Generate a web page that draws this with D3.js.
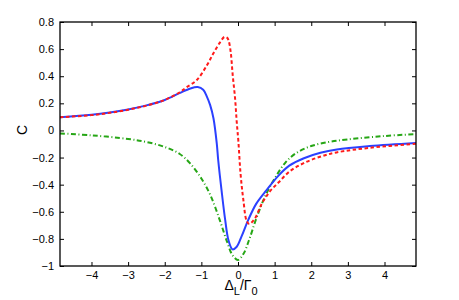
<!DOCTYPE html>
<html><head><meta charset="utf-8">
<script src="https://cdn.jsdelivr.net/npm/d3@7"></script>
<style>body{margin:0;background:#fff}svg{display:block}</style>
</head><body>
<svg id="c" width="459" height="300"></svg>
<script>
const xTicks = [-4,-3,-2,-1,0,1,2,3,4];
const yTicks = [-1,-0.8,-0.6,-0.4,-0.2,0,0.2,0.4,0.6,0.8];
const yTickLabels = ["−1","−0.8","−0.6","−0.4","−0.2","0","0.2","0.4","0.6","0.8"];

const blueX = [-4.86,-4.0,-3.5,-3.0,-2.5,-2.0,-1.6,-1.3,-1.1,-0.95,-0.85,-0.76,-0.67,-0.58,-0.54,-0.45,-0.35,-0.26,-0.15,-0.04,0.1,0.28,0.5,0.78,1.1,1.4,1.8,2.25,2.7,3.6,4.86];
const blueY = [0.098,0.115,0.132,0.155,0.185,0.225,0.275,0.31,0.32,0.30,0.25,0.187,0.09,-0.095,-0.22,-0.44,-0.66,-0.81,-0.877,-0.86,-0.78,-0.66,-0.54,-0.44,-0.335,-0.26,-0.205,-0.165,-0.14,-0.115,-0.092];

const redX = [-4.86,-4.0,-3.5,-3.0,-2.5,-2.0,-1.6,-1.4,-1.13,-0.85,-0.67,-0.49,-0.37,-0.3,-0.26,-0.2,-0.145,-0.08,-0.035,0.01,0.07,0.145,0.24,0.31,0.46,0.65,0.87,1.12,1.42,1.78,2.24,2.69,3.6,4.86];
const redY = [0.097,0.113,0.13,0.153,0.183,0.225,0.28,0.32,0.37,0.48,0.57,0.65,0.69,0.685,0.667,0.58,0.41,0.237,0.064,-0.08,-0.32,-0.51,-0.67,-0.69,-0.65,-0.54,-0.45,-0.38,-0.30,-0.243,-0.194,-0.162,-0.128,-0.098];

const greenX = [-4.86,-4.0,-3.0,-2.5,-2.0,-1.6,-1.3,-1.0,-0.75,-0.5,-0.3,-0.15,0.0,0.15,0.3,0.5,0.75,1.0,1.3,1.6,2.0,2.5,3.0,4.0,4.86];
const greenY = [-0.022,-0.036,-0.063,-0.085,-0.122,-0.172,-0.245,-0.355,-0.48,-0.66,-0.82,-0.92,-0.955,-0.91,-0.81,-0.65,-0.48,-0.355,-0.235,-0.165,-0.115,-0.084,-0.066,-0.041,-0.027];

const svg = d3.select("#c");
const L=60,R=416,T=22,B=266;
const x = d3.scaleLinear().domain([-4.86,4.86]).range([L,R]);
const y = d3.scaleLinear().domain([-1,0.8]).range([B,T]);
const font = "'Liberation Sans', Arial, Helvetica, sans-serif";

svg.append("clipPath").attr("id","cp").append("rect")
  .attr("x",L).attr("y",T).attr("width",R-L).attr("height",B-T);

const line = d3.line().x(d=>x(d[0])).y(d=>y(d[1])).curve(d3.curveCatmullRom.alpha(0.5));
const g = svg.append("g").attr("clip-path","url(#cp)");
g.append("path").datum(greenX.map((v,i)=>[v,greenY[i]])).attr("d",line)
  .attr("fill","none").attr("stroke","#26a615").attr("stroke-width",2)
  .attr("stroke-dasharray","5,2.5,1,2.5");
g.append("path").datum(blueX.map((v,i)=>[v,blueY[i]])).attr("d",line)
  .attr("fill","none").attr("stroke","#2b40ff").attr("stroke-width",2);
g.append("path").datum(redX.map((v,i)=>[v,redY[i]])).attr("d",line)
  .attr("fill","none").attr("stroke","#ff1a1a").attr("stroke-width",2)
  .attr("stroke-dasharray","3.5,2.5");

// axes
const ax = svg.append("g");
const xb = d3.axisBottom(x).tickValues(xTicks).tickSizeInner(-4).tickSizeOuter(0).tickPadding(5)
  .tickFormat(d=> d<0 ? "−"+Math.abs(d) : String(d));
const xt = d3.axisTop(x).tickValues(xTicks).tickSizeInner(-4).tickSizeOuter(0).tickFormat("");
const yl = d3.axisLeft(y).tickValues(yTicks).tickSizeInner(-4).tickSizeOuter(0).tickPadding(6)
  .tickFormat((d,i)=>yTickLabels[i]);
const yr = d3.axisRight(y).tickValues(yTicks).tickSizeInner(-4).tickSizeOuter(0).tickFormat("");
[ [xb,`translate(0,${B})`],[xt,`translate(0,${T})`],[yl,`translate(${L},0)`],[yr,`translate(${R},0)`] ].forEach(([a,t])=>{
  const gg = ax.append("g").attr("transform",t).call(a);
  gg.select(".domain").remove();
  gg.selectAll("line").attr("stroke","#000").attr("stroke-width",1);
  gg.selectAll("text").attr("fill","#000").attr("font-family",font).attr("font-size",11);
});
svg.append("rect").attr("x",L).attr("y",T).attr("width",R-L).attr("height",B-T)
  .attr("fill","none").attr("stroke","#000").attr("stroke-width",1.3);

// labels
svg.append("text").attr("transform","translate(27,130) rotate(-90)")
  .attr("text-anchor","middle").attr("font-family",font).attr("font-size",14).text("C");
const xl = svg.append("text").attr("x",241).attr("y",290).attr("text-anchor","middle")
  .attr("font-family",font).attr("font-size",14);
xl.append("tspan").text("Δ");
xl.append("tspan").attr("font-size",11).attr("dy",5).text("L");
xl.append("tspan").attr("dy",-5).text("/Γ");
xl.append("tspan").attr("font-size",11).attr("dy",5).text("0");
</script>
</body></html>
